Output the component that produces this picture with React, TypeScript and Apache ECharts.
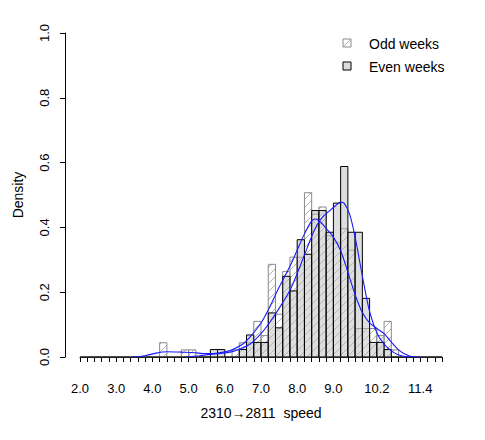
import React, { useEffect, useRef } from "react";
import * as echarts from "echarts";

// Bin breaks (width 0.2) of both histograms
const breaks = [
  2.0, 2.2, 2.4, 2.6, 2.8, 3.0, 3.2, 3.4, 3.6, 3.8,
  4.0, 4.2, 4.4, 4.6, 4.8, 5.0, 5.2, 5.4, 5.6, 5.8,
  6.0, 6.2, 6.4, 6.6, 6.8, 7.0, 7.2, 7.4, 7.6, 7.8,
  8.0, 8.2, 8.4, 8.6, 8.8, 9.0, 9.2, 9.4, 9.6, 9.8,
  10.0, 10.2, 10.4, 10.6, 10.8, 11.0, 11.2, 11.4, 11.6, 11.8,
  12.0,
];

// Histogram densities per bin (50 bins)
const oddDensity = [
  0, 0, 0, 0, 0, 0, 0, 0, 0, 0,
  0, 0.044, 0, 0, 0.022, 0.022, 0, 0, 0, 0,
  0, 0.022, 0.044, 0.044, 0.110, 0.066, 0.286, 0.132, 0.264, 0.308,
  0.308, 0.507, 0.441, 0.463, 0.374, 0.352, 0.396, 0.330, 0.088, 0.088,
  0.088, 0.066, 0.110, 0.022, 0, 0, 0, 0, 0, 0,
];
const evenDensity = [
  0, 0, 0, 0, 0, 0, 0, 0, 0, 0,
  0, 0, 0, 0, 0, 0, 0, 0, 0.023, 0.023,
  0, 0, 0.023, 0.068, 0.045, 0.045, 0.136, 0.090, 0.249, 0.204,
  0.362, 0.317, 0.452, 0.452, 0.385, 0.475, 0.588, 0.385, 0.385, 0.181,
  0.045, 0.045, 0.023, 0, 0, 0, 0, 0, 0, 0,
];

// Kernel density curves: [speed, density]
const oddCurve = [
  [3.45, 0], [3.8, 0.004], [4.1, 0.012], [4.4, 0.016], [4.8, 0.015], [5.1, 0.014],
  [5.4, 0.011], [5.7, 0.011], [6.0, 0.016], [6.2, 0.022], [6.5, 0.04], [6.7, 0.062],
  [7.0, 0.105], [7.2, 0.145], [7.5, 0.215], [7.8, 0.28], [8.0, 0.33], [8.2, 0.38],
  [8.4, 0.42], [8.5, 0.426], [8.65, 0.416], [8.8, 0.397], [9.0, 0.37], [9.2, 0.328],
  [9.4, 0.262], [9.6, 0.192], [9.8, 0.137], [10.0, 0.105], [10.2, 0.088], [10.4, 0.072],
  [10.6, 0.046], [10.8, 0.022], [11.0, 0.008], [11.2, 0.001], [11.4, 0],
];
const evenCurve = [
  [4.95, 0], [5.3, 0.004], [5.6, 0.008], [5.9, 0.011], [6.15, 0.015], [6.4, 0.024],
  [6.7, 0.04], [7.0, 0.072], [7.25, 0.108], [7.5, 0.15], [7.8, 0.206], [8.0, 0.258],
  [8.2, 0.315], [8.4, 0.372], [8.55, 0.408], [8.7, 0.432], [8.9, 0.452], [9.05, 0.466],
  [9.2, 0.478], [9.3, 0.474], [9.45, 0.44], [9.6, 0.37], [9.8, 0.25], [10.0, 0.14],
  [10.2, 0.075], [10.4, 0.04], [10.65, 0.015], [10.9, 0.003], [11.1, 0],
];

const xTickLabels = [2.0, 3.0, 4.0, 5.0, 6.0, 7.0, 8.0, 9.0, 10.2, 11.4];
const legendNames = ["Odd weeks", "Even weeks"];
const xTitle = "2310\u21922811  speed";
const yTitle = "Density";

const FONT = '"Liberation Sans", Arial, Helvetica, sans-serif';
const HATCH = "#9a9a9a";
const ODD_BORDER = "#8a8a8a";
const EVEN_FILL = "rgba(190,190,190,0.5)";
const CURVE = "#1a1aff";

function hatch(xl: number, xr: number, yt: number, yb: number, spacing: number) {
  const out: any[] = [];
  const c0 = Math.ceil((xl + yt) / spacing) * spacing;
  for (let c = c0; c <= xr + yb; c += spacing) {
    const xa = Math.max(xl, c - yb);
    const xb = Math.min(xr, c - yt);
    if (xb > xa) {
      out.push({
        type: "line",
        shape: { x1: xa, y1: c - xa, x2: xb, y2: c - xb },
        style: { stroke: HATCH, lineWidth: 0.8 },
      });
    }
  }
  return out;
}

function barItem(hatched: boolean, stroke: string, fill: string) {
  return (params: any, api: any) => {
    const x0 = api.value(0);
    const x1 = api.value(1);
    const d = api.value(2);
    const p0 = api.coord([x0, d]);
    const p1 = api.coord([x1, 0]);
    const xl = p0[0], yt = p0[1], xr = p1[0], yb = p1[1];
    if (d === 0) {
      return {
        type: "line",
        shape: { x1: xl, y1: yb, x2: xr, y2: yb },
        style: { stroke, lineWidth: 1.2 },
      };
    }
    const children: any[] = hatched ? hatch(xl, xr, yt, yb, 8) : [];
    children.push({
      type: "rect",
      shape: { x: xl, y: yt, width: xr - xl, height: yb - yt },
      style: { fill, stroke, lineWidth: 1 },
    });
    return { type: "group", children };
  };
}

export default function App() {
  const ref = useRef<HTMLDivElement>(null);
  useEffect(() => {
    const chart = echarts.init(ref.current!, null, { renderer: "svg" });
    const oddData = oddDensity.map((d, i) => [breaks[i], breaks[i + 1], d]);
    const evenData = evenDensity.map((d, i) => [breaks[i], breaks[i + 1], d]);
    chart.setOption({
      animation: false,
      backgroundColor: "#ffffff",
      grid: { left: 80, right: 43, top: 33, bottom: 83 },
      xAxis: {
        type: "value",
        min: 2,
        max: 12,
        interval: 0.2,
        offset: 13,
        axisLine: { show: true, lineStyle: { color: "#000", width: 1 } },
        axisTick: { show: true, length: 5, lineStyle: { color: "#000", width: 1 } },
        splitLine: { show: false },
        axisLabel: {
          margin: 12,
          fontFamily: FONT,
          fontSize: 13,
          color: "#000",
          showMinLabel: true,
          showMaxLabel: true,
          formatter: (v: number) =>
            xTickLabels.some((t) => Math.abs(t - v) < 1e-6) ? v.toFixed(1) : "",
        },
      },
      yAxis: {
        type: "value",
        min: 0,
        max: 1,
        interval: 0.2,
        offset: 15,
        axisLine: { show: true, lineStyle: { color: "#000", width: 1 } },
        axisTick: { show: true, length: 5, lineStyle: { color: "#000", width: 1 } },
        splitLine: { show: false },
        axisLabel: {
          rotate: 90,
          margin: 14,
          fontFamily: FONT,
          fontSize: 13,
          color: "#000",
          formatter: (v: number) => v.toFixed(1),
        },
      },
      graphic: [
        {
          type: "text",
          x: 261,
          y: 413,
          style: {
            text: xTitle,
            font: `14px ${FONT}`,
            fill: "#000",
            textAlign: "center",
            textVerticalAlign: "middle",
          },
        },
        {
          type: "text",
          x: 18,
          y: 195,
          rotation: Math.PI / 2,
          style: {
            text: yTitle,
            font: `14px ${FONT}`,
            fill: "#000",
            textAlign: "center",
            textVerticalAlign: "middle",
          },
        },
        {
          type: "rect",
          shape: { x: 343, y: 39, width: 8, height: 8 },
          style: { fill: "#fff", stroke: ODD_BORDER, lineWidth: 1 },
        },
        {
          type: "line",
          shape: { x1: 343.5, y1: 46.5, x2: 350.5, y2: 39.5 },
          style: { stroke: HATCH, lineWidth: 0.8 },
        },
        {
          type: "rect",
          shape: { x: 343, y: 62, width: 8, height: 8 },
          style: { fill: "#dedede", stroke: "#000", lineWidth: 1 },
        },
        {
          type: "text",
          x: 369,
          y: 44,
          style: {
            text: legendNames[0],
            font: `14px ${FONT}`,
            fill: "#000",
            textAlign: "left",
            textVerticalAlign: "middle",
          },
        },
        {
          type: "text",
          x: 369,
          y: 67,
          style: {
            text: legendNames[1],
            font: `14px ${FONT}`,
            fill: "#000",
            textAlign: "left",
            textVerticalAlign: "middle",
          },
        },
      ],
      series: [
        {
          type: "custom",
          name: legendNames[0],
          z: 2,
          renderItem: barItem(true, ODD_BORDER, "none"),
          encode: { x: [0, 1], y: 2 },
          data: oddData,
        },
        {
          type: "custom",
          name: legendNames[1],
          z: 3,
          renderItem: barItem(false, "#000", EVEN_FILL),
          encode: { x: [0, 1], y: 2 },
          data: evenData,
        },
        {
          type: "line",
          z: 4,
          data: oddCurve,
          showSymbol: false,
          smooth: 0.3,
          lineStyle: { color: CURVE, width: 1.1 },
        },
        {
          type: "line",
          z: 4,
          data: evenCurve,
          showSymbol: false,
          smooth: 0.3,
          lineStyle: { color: CURVE, width: 1.1 },
        },
      ],
    });
    return () => chart.dispose();
  }, []);
  return (
    <div
      ref={ref}
      style={{ position: "absolute", left: 0, top: 0, width: 485, height: 440, background: "#fff" }}
    />
  );
}
